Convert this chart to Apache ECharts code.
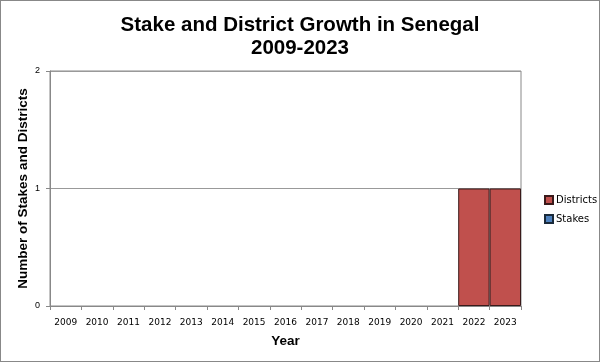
<!DOCTYPE html>
<html><head><meta charset="utf-8">
<script src="https://cdn.jsdelivr.net/npm/echarts@6/dist/echarts.min.js"></script>
<style>html,body{margin:0;padding:0;background:#fff}#c{width:600px;height:362px;box-sizing:border-box;border:1px solid #888}</style>
</head><body><div id="c"></div>
<script>
const years = ['2009','2010','2011','2012','2013','2014','2015','2016','2017','2018','2019','2020','2021','2022','2023'];
const districts = [0,0,0,0,0,0,0,0,0,0,0,0,0,1,1];
const stakes = [0,0,0,0,0,0,0,0,0,0,0,0,0,0,0];
const yTicks = [0,1,2];

// zero-height bars are not drawn (avoid border lines on the baseline)
const nz = arr => arr.map(v => v === 0 ? null : v);

const chart = echarts.init(document.getElementById('c'), null, {renderer:'canvas'});
chart.setOption({
  animation:false,
  textStyle:{fontFamily:'Liberation Sans, Arial, sans-serif'},
  title:{
    text:'Stake and District Growth in Senegal\n2009-2023',
    left:'center', top:8,
    textStyle:{fontSize:20.5, fontWeight:'bold', color:'#000', lineHeight:23, fontFamily:'Liberation Sans, Arial, sans-serif'}
  },
  legend:{
    orient:'vertical', left:538, top:189, itemGap:9,
    itemWidth:8, itemHeight:8, icon:'rect',
    data:['Districts','Stakes'],
    textStyle:{fontSize:10, color:'#000', padding:[0,0,0,-2], fontFamily:'DejaVu Sans, sans-serif'}
  },
  grid:{left:49, right:78, top:70, bottom:55, show:true, borderColor:'#888', borderWidth:1, backgroundColor:'transparent'},
  xAxis:{
    type:'category', data:years, name:'Year', nameLocation:'middle', nameGap:28,
    nameTextStyle:{fontSize:13.5, fontWeight:'bold', color:'#000'},
    axisLine:{lineStyle:{color:'#888'}},
    axisTick:{show:true, length:4, lineStyle:{color:'#888'}},
    axisLabel:{fontSize:9, color:'#000', margin:12, interval:0, fontFamily:'DejaVu Sans, sans-serif'}
  },
  yAxis:{
    type:'value', min:0, max:2, interval:1,
    name:'Number of Stakes and Districts', nameLocation:'middle', nameGap:20, nameMoveOverlap:false,
    nameTextStyle:{fontSize:13.5, fontWeight:'bold', color:'#000'},
    axisLine:{show:true, lineStyle:{color:'#888'}},
    axisTick:{show:true, length:4, lineStyle:{color:'#888'}},
    axisLabel:{fontSize:9, color:'#000', margin:10, formatter:v=>yTicks.includes(v)?String(v):''},
    splitLine:{lineStyle:{color:'#999'}}
  },
  series:[
    {name:'Districts', type:'bar', stack:'a', data:nz(districts), barCategoryGap:'0%',
     itemStyle:{color:'#C0504D', borderColor:'#3a1a1a', borderWidth:1}},
    {name:'Stakes', type:'bar', stack:'a', data:nz(stakes), barCategoryGap:'0%',
     itemStyle:{color:'#4F81BD', borderColor:'#1a2a3a', borderWidth:1}}
  ]
});
</script></body></html>
